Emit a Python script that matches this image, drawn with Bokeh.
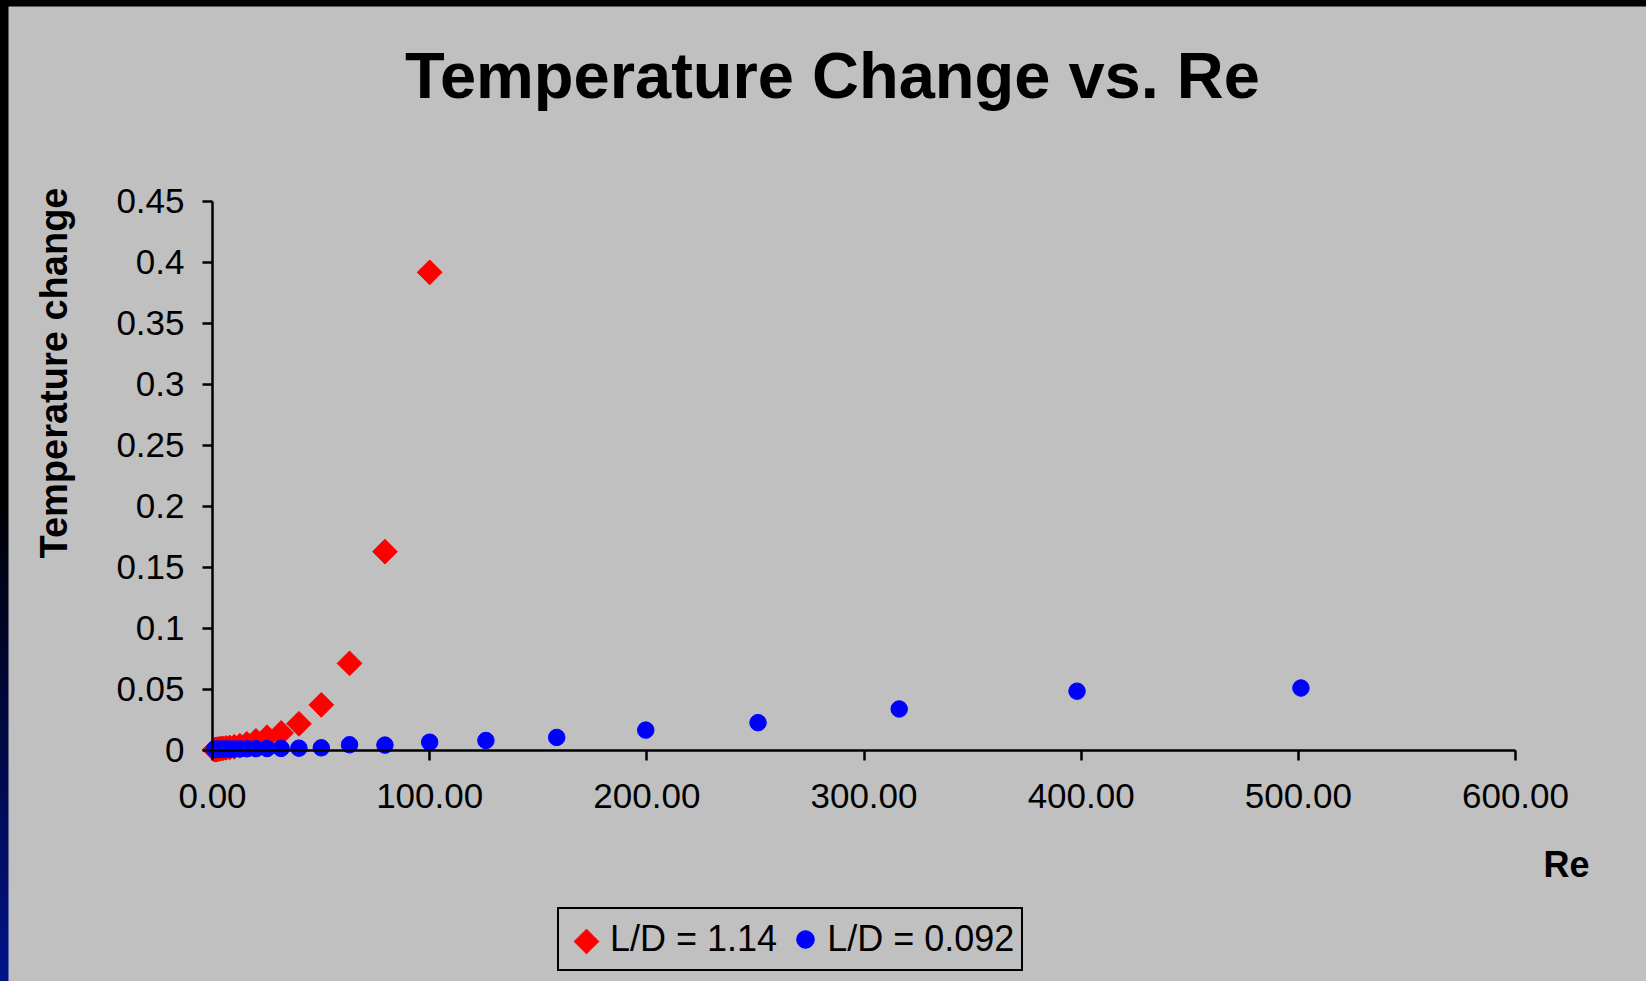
import math
from bokeh.plotting import figure
from bokeh.models import Legend, LegendItem, FixedTicker, Range1d, Label
from bokeh.layouts import column
from bokeh.embed import file_html
from bokeh.resources import INLINE

# ---------------- data ----------------
re_red = [1.00, 1.26, 1.58, 2.00, 2.51, 3.16, 3.98, 5.01, 6.31, 7.94, 10.0,
          12.6, 15.8, 20.0, 25.1, 31.6, 39.8, 50.1, 63.1, 79.4, 100.0]
dt_red = [0.0002, 0.0003, 0.0004, 0.0005, 0.0007, 0.0009, 0.0011, 0.0014, 0.0017, 0.0021, 0.0026,
          0.0035, 0.0050, 0.0075, 0.0105, 0.0140, 0.0215, 0.0370, 0.0710, 0.1626, 0.3915]

re_blue = [1.00, 1.26, 1.58, 2.00, 2.51, 3.16, 3.98, 5.01, 6.31, 7.94, 10.0,
           12.6, 15.8, 20.0, 25.1, 31.6, 39.8, 50.1, 63.1, 79.4, 100.0,
           125.9, 158.5, 199.5, 251.2, 316.2, 398.1, 501.2]
dt_blue = [0.0005, 0.0005, 0.0005, 0.0006, 0.0006, 0.0006, 0.0007, 0.0007, 0.0008, 0.0008, 0.0009,
           0.0009, 0.0010, 0.0011, 0.0012, 0.0013, 0.0015, 0.0018, 0.0043, 0.0040, 0.0064,
           0.0078, 0.0103, 0.0163, 0.0224, 0.0336, 0.0482, 0.0508]

series_names = ["L/D = 1.14", "L/D = 0.092"]
x_ticks = [0, 100, 200, 300, 400, 500, 600]
x_tick_labels = ["0.00", "100.00", "200.00", "300.00", "400.00", "500.00", "600.00"]
y_ticks = [0, 0.05, 0.1, 0.15, 0.2, 0.25, 0.3, 0.35, 0.4, 0.45]
y_tick_labels = ["0", "0.05", "0.1", "0.15", "0.2", "0.25", "0.3", "0.35", "0.4", "0.45"]
title_text = "Temperature Change vs. Re"
x_title = "Re"
y_title = "Temperature change"

# ---------------- styling / layout ----------------
FONT = "Liberation Sans"
BG = "#C0C0C0"
RED, BLUE = "#FF0000", "#0000FF"
PAD_L, PAD_T = 8, 6                 # black page edge
W, H = 1646 - PAD_L, 981 - PAD_T    # figure size
AX_L, AX_R, AX_T, AX_B = 212, 1515, 200.5, 749.5   # axis box in page pixels
XMIN, XMAX, YMIN, YMAX = 0, 600, 0, 0.45
DIAMOND = dict(marker="square", angle=math.pi / 4, size=17.5)
DOT = dict(marker="circle", size=16.5)


def dx(px):
    return XMIN + (px - AX_L) / (AX_R - AX_L) * (XMAX - XMIN)


def dy(py):
    return YMIN + (AX_B - py) / (AX_B - AX_T) * (YMAX - YMIN)


p = figure(width=W, height=H, output_backend="svg", toolbar_location=None, title=None,
           x_range=Range1d(dx(PAD_L), dx(PAD_L + W)), y_range=Range1d(dy(PAD_T + H), dy(PAD_T)),
           min_border=0)
p.background_fill_color = BG
p.border_fill_color = BG
p.outline_line_color = None
p.grid.visible = False

for ax, ticks, labels, standoff, bounds in ((p.xaxis[0], x_ticks, x_tick_labels, 24, (XMIN, XMAX)),
                                            (p.yaxis[0], y_ticks, y_tick_labels, 18, (YMIN, YMAX))):
    ax.fixed_location = 0
    ax.bounds = bounds
    ax.ticker = FixedTicker(ticks=ticks)
    ax.major_label_overrides = {float(t): l for t, l in zip(ticks, labels)}
    ax.axis_line_width = 2.5
    ax.axis_line_color = "black"
    ax.major_tick_line_width = 2.5
    ax.major_tick_line_color = "black"
    ax.major_tick_out = 10
    ax.major_tick_in = 0
    ax.minor_tick_line_color = None
    ax.major_label_text_font = FONT
    ax.major_label_text_font_size = "35px"
    ax.major_label_text_color = "black"
    ax.major_label_standoff = standoff

r_red = p.scatter(re_red, dt_red, fill_color=RED, line_color=RED, **DIAMOND)
r_blue = p.scatter(re_blue, dt_blue, fill_color=BLUE, line_color=BLUE, **DOT)

# titles
p.add_layout(Label(x=dx(832), y=dy(74.5), text=title_text, text_align="center",
                   text_baseline="alphabetic", text_font=FONT, text_font_style="bold",
                   text_font_size="65px", text_color="black"))
p.add_layout(Label(x=dx(53.5), y=dy(372.5), text=y_title, angle=math.pi / 2,
                   text_align="center", text_baseline="alphabetic", text_font=FONT,
                   text_font_style="bold", text_font_size="38px", text_color="black"))
p.add_layout(Label(x=dx(1543), y=dy(863.5), text=x_title, text_align="left",
                   text_baseline="alphabetic", text_font=FONT, text_font_style="bold",
                   text_font_size="36px", text_color="black"))

# legend: Bokeh's legend key ignores marker angle, so the red key is an
# invisible placeholder with the rotated-square key drawn over its slot
LEG_L, LEG_B, LEG_PAD, LEG_GW, LEG_GH = 557, 971, 7, 44, 46
r_red_key = p.scatter([], [], fill_alpha=0, line_alpha=0, **DIAMOND)
p.scatter([dx(LEG_L + LEG_PAD + LEG_GW / 2)], [dy(LEG_B - LEG_PAD - LEG_GH / 2)],
          fill_color=RED, line_color=RED, **DIAMOND)

legend = Legend(items=[LegendItem(label=series_names[0], renderers=[r_red_key]),
                       LegendItem(label=series_names[1], renderers=[r_blue])],
                location=(LEG_L - PAD_L, PAD_T + H - LEG_B), orientation="horizontal",
                border_line_color="black", border_line_width=2, border_line_alpha=1,
                background_fill_alpha=0, label_text_font=FONT,
                label_text_font_size="36px", label_text_color="black",
                glyph_width=LEG_GW, glyph_height=LEG_GH, padding=LEG_PAD, spacing=6,
                label_standoff=0, margin=0)
p.add_layout(legend)

page = column(p, styles={"padding-left": f"{PAD_L}px", "padding-top": f"{PAD_T}px",
                         "background": "linear-gradient(to bottom, #000000 0%, #000000 50%, #000a50 80%, #00148a 100%)"})

open("out.html", "w").write(file_html(page, INLINE))
